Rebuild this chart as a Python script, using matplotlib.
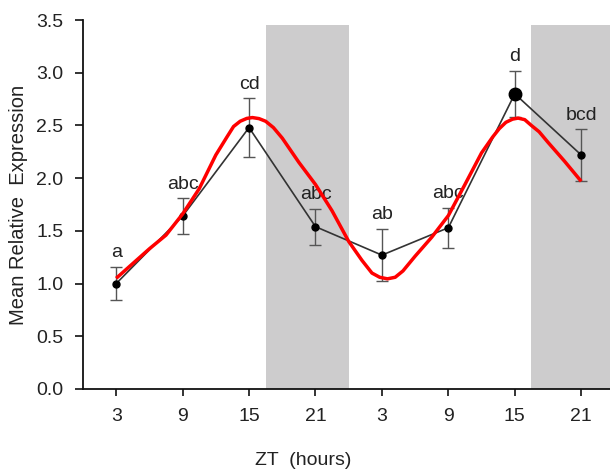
import matplotlib
import matplotlib.pyplot as plt

matplotlib.use('Agg')
plt.rcParams['font.family'] = ['Liberation Sans', 'DejaVu Sans']

# sampling times (continuous hours over two days) and their ZT labels
hours = [3, 9, 15, 21, 27, 33, 39, 45]
zt_labels = ['3', '9', '15', '21', '3', '9', '15', '21']

mean_expr = [1.00, 1.64, 2.48, 1.54, 1.27, 1.53, 2.80, 2.22]
sem_expr = [0.16, 0.17, 0.28, 0.17, 0.25, 0.19, 0.22, 0.245]
letters = ['a', 'abc', 'cd', 'abc', 'ab', 'abc', 'd', 'bcd']

# fitted rhythm curve
fit_hours = [3, 4.5, 6, 7.5, 9, 10.5, 12, 13.0, 13.6, 14.2, 14.8, 15.3, 15.9, 16.5,
             17.2, 18, 19.5, 21, 22.5, 24, 25.2, 26.1, 26.8, 27.5, 28.2, 28.9, 30,
             31.5, 33, 34.5, 36, 37.0, 37.6, 38.2, 38.8, 39.3, 39.9, 40.5, 41.2, 42,
             43.5, 45]
fit_values = [1.05, 1.19, 1.33, 1.46, 1.66, 1.90, 2.22, 2.39, 2.49, 2.54, 2.567, 2.575,
              2.565, 2.54, 2.48, 2.38, 2.15, 1.94, 1.69, 1.40, 1.22, 1.10, 1.06, 1.045,
              1.06, 1.12, 1.26, 1.44, 1.645, 1.94, 2.24, 2.39, 2.47, 2.53, 2.56, 2.57,
              2.555, 2.50, 2.44, 2.34, 2.16, 1.97]

# dark phases
dark_periods = [(16.5, 24.0), (40.5, 48.0)]
dark_top = 3.45

fig = plt.figure(figsize=(6.10, 4.73), dpi=100)
ax = fig.add_axes([0.136, 0.1776, 0.864, 0.780])

for start, end in dark_periods:
    ax.fill_between([start, end], 0, dark_top, color='#cdcccd', linewidth=0, zorder=0)

ax.errorbar(hours, mean_expr, yerr=sem_expr, fmt='none', ecolor='#555555',
            elinewidth=1.0, capsize=4.5, capthick=1.0, zorder=2)
ax.plot(hours, mean_expr, color='#333333', linewidth=1.2, zorder=3)
sizes = [5] * len(hours)
sizes[6] = 9
for x, y, s in zip(hours, mean_expr, sizes):
    ax.plot(x, y, 'o', color='black', markersize=s, zorder=4)

ax.plot(fit_hours, fit_values, color='#ff0000', linewidth=2.5, zorder=5,
        solid_capstyle='butt', solid_joinstyle='round')

for x, y, e, t in zip(hours, mean_expr, sem_expr, letters):
    ax.text(x, y + e + 0.05, t, ha='center', va='bottom', fontsize=14, color='#222222')

ax.set_xlim(0, 47.6)
ax.set_ylim(0, 3.5)
ax.set_xticks(hours)
ax.set_xticklabels(zt_labels)
ax.set_yticks([0, 0.5, 1.0, 1.5, 2.0, 2.5, 3.0, 3.5])
ax.set_yticklabels([f'{v:.1f}' for v in ax.get_yticks()])

for side in ['top', 'right']:
    ax.spines[side].set_visible(False)
for side in ['left', 'bottom']:
    ax.spines[side].set_linewidth(1.3)
    ax.spines[side].set_color('#111111')

ax.tick_params(axis='y', direction='out', length=6, width=1.2, pad=8,
               labelsize=14, colors='#111111', labelcolor='#222222')
ax.tick_params(axis='x', direction='out', length=5, width=1.2, pad=9,
               labelsize=14, colors='#111111', labelcolor='#222222')

ax.set_ylabel('Mean Relative  Expression', fontsize=14.5, color='#222222')
ax.yaxis.set_label_coords(-0.105, 0.5)
fig.text(303 / 610, 1 - 460 / 473, 'ZT  (hours)', ha='center', va='center',
         fontsize=14, color='#222222')

fig.savefig('out.png', dpi=100)
